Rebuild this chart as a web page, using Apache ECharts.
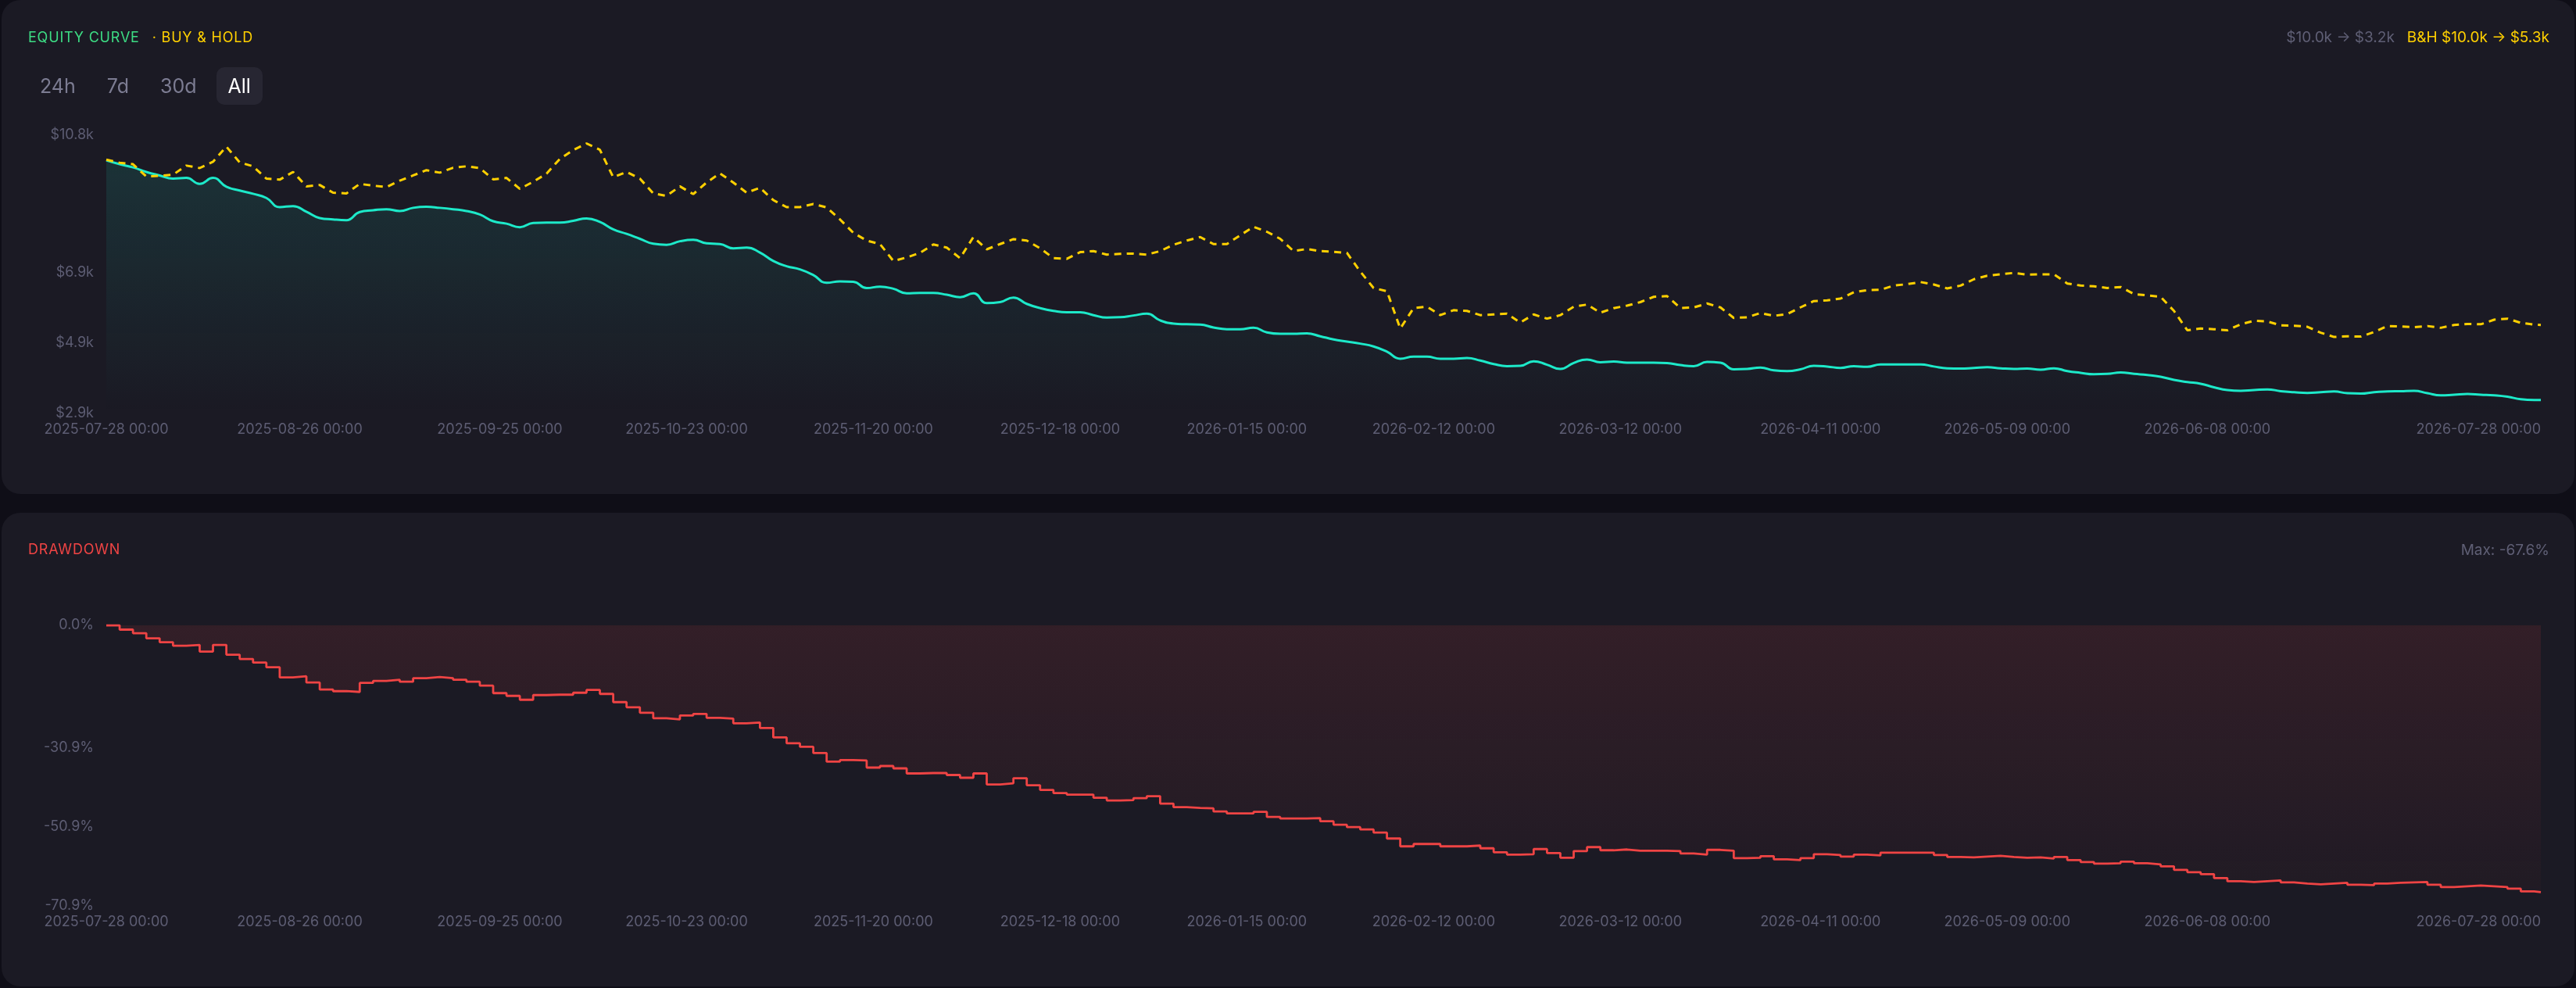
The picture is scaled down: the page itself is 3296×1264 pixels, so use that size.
<!DOCTYPE html>
<html>
<head>
<meta charset="utf-8">
<title>Equity curve</title>
<script src="https://cdn.jsdelivr.net/npm/echarts@6/dist/echarts.min.js"></script>
<style>
  html, body { margin: 0; padding: 0; background: #0f0e17; }
  body { width: 3296px; height: 1264px; position: relative; overflow: hidden; font-family: Inter, 'Noto Sans', sans-serif; }
  .card { position: absolute; left: 2px; width: 3292px; background: #1b1a24; border-radius: 24px; }
  #top-card { top: 0; height: 632px; }
  #dd-card { top: 656px; height: 606px; }
  #chart { position: absolute; left: 0; top: 0; width: 3296px; height: 1264px; z-index: 1; }
  .txt { position: absolute; z-index: 2; font-size: 19px; line-height: 24px; white-space: nowrap; }
  .caps { font-size: 18px; letter-spacing: 0.8px; font-weight: 400; }
  .btns { position: absolute; z-index: 2; left: 36px; top: 86px; display: flex; gap: 10px; }
  .btn { height: 48px; line-height: 48px; padding: 0 15px; font-size: 25px; color: #7c7c92; border-radius: 10px; }
  .btn.on { background: #272632; color: #ffffff; }
</style>
</head>
<body>
<div class="card" id="top-card"></div>
<div class="card" id="dd-card"></div>
<div id="chart"></div>

<div class="txt caps" style="left:36px; top:36px;"><span style="color:#3ddc84">EQUITY CURVE</span><span style="color:#ffd000; margin-left:16px">· BUY &amp; HOLD</span></div>
<div class="txt" style="right:34px; top:36px;"><span style="color:#5f5f75">$10.0k → $3.2k</span><span style="color:#ffd000; margin-left:16px">B&amp;H $10.0k → $5.3k</span></div>
<div class="btns">
  <div class="btn">24h</div>
  <div class="btn">7d</div>
  <div class="btn">30d</div>
  <div class="btn on">All</div>
</div>
<div class="txt caps" style="left:36px; top:691px; color:#ef4444;">DRAWDOWN</div>
<div class="txt" style="right:34px; top:692px; color:#5f5f75;">Max: -67.6%</div>

<script>
// sample grid: every 2 days from 2025-07-28, last point on 2026-07-28
const sampleDays = [];
for (let i = 0; i <= 182; i++) sampleDays.push(i * 2);
sampleDays.push(365);

// strategy equity, $k
const equity = [
  10.08, 9.97, 9.88, 9.75, 9.65, 9.56, 9.58, 9.41, 9.58, 9.33,
  9.22, 9.13, 9.01, 8.75, 8.78, 8.62, 8.44, 8.40, 8.38, 8.61,
  8.66, 8.69, 8.64, 8.73, 8.76, 8.73, 8.69, 8.64, 8.54, 8.35,
  8.28, 8.18, 8.30, 8.31, 8.31, 8.36, 8.43, 8.33, 8.12, 7.99,
  7.85, 7.71, 7.68, 7.78, 7.82, 7.72, 7.70, 7.58, 7.60, 7.46,
  7.22, 7.07, 6.98, 6.82, 6.60, 6.64, 6.63, 6.45, 6.49, 6.43,
  6.30, 6.31, 6.31, 6.26, 6.19, 6.30, 6.02, 6.05, 6.18, 6.00,
  5.88, 5.80, 5.76, 5.76, 5.68, 5.61, 5.62, 5.67, 5.72, 5.53,
  5.44, 5.42, 5.41, 5.33, 5.28, 5.28, 5.32, 5.19, 5.15, 5.15,
  5.16, 5.08, 4.99, 4.93, 4.87, 4.79, 4.64, 4.44, 4.50, 4.50,
  4.44, 4.44, 4.46, 4.39, 4.29, 4.23, 4.24, 4.37, 4.27, 4.15,
  4.32, 4.42, 4.34, 4.36, 4.33, 4.33, 4.33, 4.32, 4.26, 4.23,
  4.35, 4.33, 4.14, 4.15, 4.19, 4.11, 4.09, 4.14, 4.24, 4.22,
  4.18, 4.23, 4.21, 4.28, 4.28, 4.28, 4.28, 4.22, 4.17, 4.16,
  4.18, 4.20, 4.17, 4.15, 4.16, 4.13, 4.17, 4.09, 4.04, 4.00,
  4.01, 4.05, 4.01, 3.98, 3.93, 3.84, 3.78, 3.73, 3.63, 3.55,
  3.53, 3.55, 3.57, 3.52, 3.49, 3.47, 3.49, 3.51, 3.46, 3.45,
  3.49, 3.51, 3.52, 3.53, 3.46, 3.40, 3.42, 3.44, 3.42, 3.40,
  3.36, 3.29, 3.27,
  3.27
];

// buy & hold benchmark, $k
const buyHold = [
  10.10, 10.01, 9.97, 9.62, 9.64, 9.67, 9.93, 9.86, 10.04, 10.47,
  10.02, 9.91, 9.56, 9.53, 9.75, 9.34, 9.38, 9.16, 9.14, 9.41,
  9.36, 9.32, 9.50, 9.65, 9.80, 9.73, 9.87, 9.91, 9.86, 9.54,
  9.58, 9.27, 9.47, 9.70, 10.12, 10.37, 10.56, 10.38, 9.60, 9.75,
  9.56, 9.14, 9.07, 9.34, 9.12, 9.45, 9.71, 9.45, 9.16, 9.30,
  8.95, 8.75, 8.75, 8.84, 8.74, 8.40, 8.02, 7.80, 7.70, 7.22,
  7.32, 7.45, 7.69, 7.60, 7.30, 7.90, 7.55, 7.70, 7.84, 7.80,
  7.58, 7.30, 7.28, 7.47, 7.50, 7.40, 7.42, 7.43, 7.40, 7.50,
  7.68, 7.80, 7.90, 7.70, 7.70, 7.95, 8.19, 8.05, 7.85, 7.50,
  7.56, 7.50, 7.48, 7.45, 6.92, 6.45, 6.36, 5.30, 5.88, 5.92,
  5.68, 5.82, 5.80, 5.68, 5.70, 5.72, 5.47, 5.70, 5.58, 5.68,
  5.92, 5.98, 5.75, 5.88, 5.95, 6.05, 6.20, 6.22, 5.88, 5.90,
  6.01, 5.90, 5.60, 5.62, 5.74, 5.66, 5.71, 5.90, 6.08, 6.10,
  6.15, 6.33, 6.39, 6.40, 6.52, 6.56, 6.62, 6.55, 6.44, 6.52,
  6.70, 6.80, 6.84, 6.88, 6.83, 6.84, 6.84, 6.58, 6.52, 6.50,
  6.45, 6.48, 6.28, 6.24, 6.20, 5.80, 5.25, 5.30, 5.28, 5.25,
  5.42, 5.52, 5.50, 5.39, 5.38, 5.35, 5.18, 5.06, 5.08, 5.07,
  5.20, 5.37, 5.36, 5.34, 5.37, 5.32, 5.40, 5.43, 5.42, 5.55,
  5.58, 5.46, 5.41,
  5.40
];

const xTickDates = ['2025-07-28', '2025-08-26', '2025-09-25', '2025-10-23', '2025-11-20', '2025-12-18',
  '2026-01-15', '2026-02-12', '2026-03-12', '2026-04-11', '2026-05-09', '2026-06-08', '2026-07-28'];
const equityTicks = [2.9, 4.9, 6.9, 10.8];
const drawdownTicks = [0, -30.9, -50.9, -70.9];

const dayToTime = d => new Date(2025, 6, 28 + d).getTime();
const parseDay = s => { const p = s.split('-').map(Number); return new Date(p[0], p[1] - 1, p[2]).getTime(); };
const pad = n => String(n).padStart(2, '0');
const fmtDate = v => {
  const d = new Date(v);
  return d.getFullYear() + '-' + pad(d.getMonth() + 1) + '-' + pad(d.getDate()) + ' ' + pad(d.getHours()) + ':' + pad(d.getMinutes());
};

const equityData = sampleDays.map((d, i) => [dayToTime(d), equity[i]]);
const buyHoldData = sampleDays.map((d, i) => [dayToTime(d), buyHold[i]]);
// drawdown from running peak of the equity curve, in %
let peak = -Infinity;
const drawdownData = sampleDays.map((d, i) => {
  peak = Math.max(peak, equity[i]);
  return [dayToTime(d), (equity[i] / peak - 1) * 100];
});

const labelColor = '#5d5d73';
// timestamps on a value axis so the labels can sit on the exact dates
const xAxisBase = (gridIndex) => ({
  type: 'value',
  gridIndex,
  min: dayToTime(0),
  max: dayToTime(365),
  axisLine: { show: false },
  axisTick: { show: false },
  splitLine: { show: false },
  axisLabel: {
    customValues: xTickDates.map(parseDay),
    formatter: v => fmtDate(v),
    color: labelColor,
    fontSize: 18,
    fontFamily: 'Inter',
    margin: 12,
    hideOverlap: false,
    alignMinLabel: 'center',
    alignMaxLabel: 'right'
  }
});

const option = {
  animation: false,
  backgroundColor: 'transparent',
  grid: [
    { left: 136, width: 3115, top: 172.7, height: 355.6, outerBoundsMode: 'none' },
    { left: 136, width: 3115, top: 800, height: 358.3, outerBoundsMode: 'none' }
  ],
  xAxis: [xAxisBase(0), xAxisBase(1)],
  yAxis: [
    {
      type: 'value', gridIndex: 0, min: 2.9, max: 10.8,
      axisLine: { show: false }, axisTick: { show: false }, splitLine: { show: false },
      axisLabel: {
        customValues: equityTicks,
        formatter: v => '$' + v.toFixed(1) + 'k',
        color: labelColor, fontSize: 18, fontFamily: 'Inter', margin: 16
      }
    },
    {
      type: 'value', gridIndex: 1, min: -70.9, max: 0,
      axisLine: { show: false }, axisTick: { show: false }, splitLine: { show: false },
      axisLabel: {
        customValues: drawdownTicks,
        formatter: v => v.toFixed(1) + '%',
        color: labelColor, fontSize: 18, fontFamily: 'Inter', margin: 16
      }
    }
  ],
  series: [
    {
      name: 'Equity',
      type: 'line',
      xAxisIndex: 0, yAxisIndex: 0,
      data: equityData,
      smooth: true,
      showSymbol: false,
      lineStyle: { color: '#1de9c9', width: 3 },
      areaStyle: {
        color: new echarts.graphic.LinearGradient(0, 0, 0, 1, [
          { offset: 0, color: 'rgba(29,233,201,0.17)' },
          { offset: 1, color: 'rgba(29,233,201,0.0)' }
        ])
      }
    },
    {
      name: 'Buy & Hold',
      type: 'line',
      xAxisIndex: 0, yAxisIndex: 0,
      data: buyHoldData,
      showSymbol: false,
      lineStyle: { color: '#ffd000', width: 3, type: [9, 7] }
    },
    {
      name: 'Drawdown',
      type: 'line',
      xAxisIndex: 1, yAxisIndex: 1,
      data: drawdownData,
      step: 'end',
      showSymbol: false,
      lineStyle: { color: '#ef4444', width: 2.8 },
      areaStyle: {
        color: new echarts.graphic.LinearGradient(0, 0, 0, 1, [
          { offset: 0, color: 'rgba(239,68,68,0.16)' },
          { offset: 1, color: 'rgba(239,68,68,0.04)' }
        ])
      }
    }
  ]
};

const chart = echarts.init(document.getElementById('chart'));
chart.setOption(option);
</script>
</body>
</html>
